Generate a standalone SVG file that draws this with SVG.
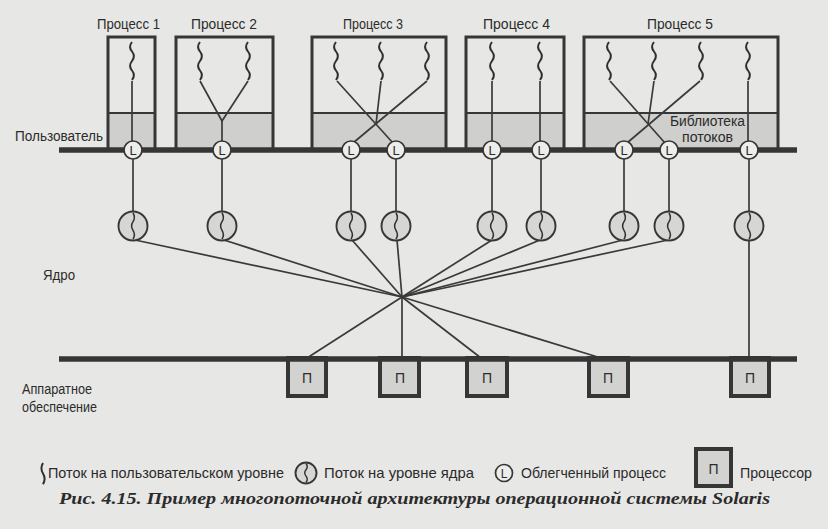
<svg xmlns="http://www.w3.org/2000/svg" xmlns:xlink="http://www.w3.org/1999/xlink" width="828" height="529" viewBox="0 0 828 529">
<style>
.t{font-family:"Liberation Sans Narrow","Liberation Sans",Arial,sans-serif;font-size:15.5px;fill:#2b2b2b}
.lg{font-size:15px}
.cap{font-family:"Liberation Serif","Times New Roman",serif;font-size:16.5px;font-style:italic;font-weight:bold;fill:#2b2b2b}
.box{fill:none;stroke:#363636;stroke-width:3}
.shade{fill:#cfcfcd}
.div{stroke:#363636;stroke-width:1.8}
.bar{stroke:#363636;stroke-width:5.5}
.ln{stroke:#3a3a3a;stroke-width:1.7;fill:none}
.wave{fill:none;stroke:#303030;stroke-width:2}
.lwp{fill:#ededeb;stroke:#363636;stroke-width:1.7}
.lt{font-family:"Liberation Sans",Arial,sans-serif;font-size:13px;fill:#2b2b2b;text-anchor:middle}
.kt{fill:#d6d6d4;stroke:#363636;stroke-width:1.9}
.cpu{fill:#d2d2d0;stroke:#363636;stroke-width:4}
.pt{font-family:"Liberation Sans",Arial,sans-serif;font-size:14px;fill:#2b2b2b;text-anchor:middle}
</style>
<defs>
<path id="uw" class="wave" d="M0,0 q-3.8,4.75 0,9.5 t0,9.5 t0,9.5 t0,9.5"/>
<path id="kw" class="wave" d="M0,-13 q2.8,4.33 0,8.67 t0,8.67 t0,8.67" style="stroke-width:1.5"/>
</defs>
<rect x="0" y="0" width="828" height="529" fill="#e7e7e5"/>

<g id="labels">
<text class="t" x="15" y="141" textLength="88" lengthAdjust="spacingAndGlyphs">Пользователь</text>
<text class="t" x="43" y="280" textLength="32" lengthAdjust="spacingAndGlyphs">Ядро</text>
<text class="t" x="22" y="394" textLength="70" lengthAdjust="spacingAndGlyphs">Аппаратное</text>
<text class="t" x="22" y="412" textLength="75" lengthAdjust="spacingAndGlyphs">обеспечение</text>
</g>

<g id="process1">
<rect class="shade" x="108" y="113" width="47" height="37"/>
<rect class="box" x="108" y="37" width="47" height="113"/>
<line class="div" x1="108" y1="113" x2="155" y2="113"/>
<text class="t" x="97" y="29" textLength="63" lengthAdjust="spacingAndGlyphs">Процесс 1</text>
<use xlink:href="#uw" x="132" y="42"/>
</g>
<g id="process2">
<rect class="shade" x="176" y="113" width="97" height="37"/>
<rect class="box" x="176" y="37" width="97" height="113"/>
<line class="div" x1="176" y1="113" x2="273" y2="113"/>
<text class="t" x="191" y="29" textLength="66" lengthAdjust="spacingAndGlyphs">Процесс 2</text>
<use xlink:href="#uw" x="200" y="42"/>
<use xlink:href="#uw" x="248" y="42"/>
</g>
<g id="process3">
<rect class="shade" x="312" y="113" width="134" height="37"/>
<rect class="box" x="312" y="37" width="134" height="113"/>
<line class="div" x1="312" y1="113" x2="446" y2="113"/>
<text class="t" x="343" y="29" textLength="60" lengthAdjust="spacingAndGlyphs">Процесс 3</text>
<use xlink:href="#uw" x="336" y="42"/>
<use xlink:href="#uw" x="381" y="42"/>
<use xlink:href="#uw" x="427" y="42"/>
</g>
<g id="process4">
<rect class="shade" x="466" y="113" width="98" height="37"/>
<rect class="box" x="466" y="37" width="98" height="113"/>
<line class="div" x1="466" y1="113" x2="564" y2="113"/>
<text class="t" x="483" y="29" textLength="67" lengthAdjust="spacingAndGlyphs">Процесс 4</text>
<use xlink:href="#uw" x="492" y="42"/>
<use xlink:href="#uw" x="540" y="42"/>
</g>
<g id="process5">
<rect class="shade" x="584" y="113" width="194" height="37"/>
<rect class="box" x="584" y="37" width="194" height="113"/>
<line class="div" x1="584" y1="113" x2="778" y2="113"/>
<text class="t" x="647" y="29" textLength="66" lengthAdjust="spacingAndGlyphs">Процесс 5</text>
<use xlink:href="#uw" x="609" y="42"/>
<use xlink:href="#uw" x="654" y="42"/>
<use xlink:href="#uw" x="701" y="42"/>
<use xlink:href="#uw" x="748" y="42"/>
<text class="t" x="670" y="126" style="font-size:14px" textLength="75" lengthAdjust="spacingAndGlyphs">Библиотека</text>
<text class="t" x="682" y="142" style="font-size:14px" textLength="51" lengthAdjust="spacingAndGlyphs">потоков</text>
</g>

<g id="bars">
<line class="bar" x1="59" y1="150" x2="797" y2="150"/>
</g>

<g id="connectors">
<line class="ln" x1="132" y1="81" x2="132" y2="141"/>
<polyline class="ln" points="200,81 222,121 248,81"/>
<line class="ln" x1="222" y1="121" x2="222" y2="141"/>
<line class="ln" x1="337" y1="81" x2="393" y2="143"/>
<line class="ln" x1="427" y1="81" x2="353" y2="143"/>
<line class="ln" x1="381" y1="81" x2="376" y2="124"/>
<line class="ln" x1="492" y1="81" x2="492" y2="141"/>
<line class="ln" x1="540" y1="81" x2="540" y2="141"/>
<line class="ln" x1="610" y1="81" x2="665" y2="143"/>
<line class="ln" x1="700" y1="81" x2="627" y2="143"/>
<line class="ln" x1="654" y1="81" x2="648" y2="124"/>
<line class="ln" x1="748" y1="81" x2="748" y2="141"/>
<line class="ln" x1="133" y1="159" x2="133" y2="212"/>
<line class="ln" x1="222" y1="159" x2="222" y2="212"/>
<line class="ln" x1="351" y1="159" x2="351" y2="212"/>
<line class="ln" x1="396" y1="159" x2="396" y2="212"/>
<line class="ln" x1="492" y1="159" x2="492" y2="212"/>
<line class="ln" x1="541" y1="159" x2="541" y2="212"/>
<line class="ln" x1="624" y1="159" x2="624" y2="212"/>
<line class="ln" x1="669" y1="159" x2="669" y2="212"/>
<line class="ln" x1="749" y1="159" x2="749" y2="212"/>
<line class="ln" x1="135" y1="240" x2="402" y2="297"/>
<line class="ln" x1="224" y1="240" x2="402" y2="297"/>
<line class="ln" x1="352" y1="240" x2="402" y2="297"/>
<line class="ln" x1="397" y1="240" x2="402" y2="297"/>
<line class="ln" x1="492" y1="240" x2="402" y2="297"/>
<line class="ln" x1="540" y1="240" x2="402" y2="297"/>
<line class="ln" x1="623" y1="240" x2="402" y2="297"/>
<line class="ln" x1="668" y1="240" x2="402" y2="297"/>
<line class="ln" x1="402" y1="297" x2="307" y2="358"/>
<line class="ln" x1="402" y1="297" x2="402" y2="358"/>
<line class="ln" x1="402" y1="297" x2="481" y2="358"/>
<line class="ln" x1="402" y1="297" x2="601" y2="358"/>
<line class="ln" x1="749" y1="240" x2="749" y2="358"/>
</g>

<g id="lwp1"><circle class="lwp" cx="133" cy="150" r="9"/><text class="lt" x="133" y="154.5">L</text></g>
<g id="lwp2"><circle class="lwp" cx="222" cy="150" r="9"/><text class="lt" x="222" y="154.5">L</text></g>
<g id="lwp3"><circle class="lwp" cx="351" cy="150" r="9"/><text class="lt" x="351" y="154.5">L</text></g>
<g id="lwp4"><circle class="lwp" cx="396" cy="150" r="9"/><text class="lt" x="396" y="154.5">L</text></g>
<g id="lwp5"><circle class="lwp" cx="492" cy="150" r="9"/><text class="lt" x="492" y="154.5">L</text></g>
<g id="lwp6"><circle class="lwp" cx="541" cy="150" r="9"/><text class="lt" x="541" y="154.5">L</text></g>
<g id="lwp7"><circle class="lwp" cx="624" cy="150" r="9"/><text class="lt" x="624" y="154.5">L</text></g>
<g id="lwp8"><circle class="lwp" cx="669" cy="150" r="9"/><text class="lt" x="669" y="154.5">L</text></g>
<g id="lwp9"><circle class="lwp" cx="749" cy="150" r="9"/><text class="lt" x="749" y="154.5">L</text></g>

<g id="kthread1"><circle class="kt" cx="133" cy="226" r="14.5"/><use xlink:href="#kw" x="133" y="226"/></g>
<g id="kthread2"><circle class="kt" cx="222" cy="226" r="14.5"/><use xlink:href="#kw" x="222" y="226"/></g>
<g id="kthread3"><circle class="kt" cx="351" cy="226" r="14.5"/><use xlink:href="#kw" x="351" y="226"/></g>
<g id="kthread4"><circle class="kt" cx="396" cy="226" r="14.5"/><use xlink:href="#kw" x="396" y="226"/></g>
<g id="kthread5"><circle class="kt" cx="492" cy="226" r="14.5"/><use xlink:href="#kw" x="492" y="226"/></g>
<g id="kthread6"><circle class="kt" cx="541" cy="226" r="14.5"/><use xlink:href="#kw" x="541" y="226"/></g>
<g id="kthread7"><circle class="kt" cx="624" cy="226" r="14.5"/><use xlink:href="#kw" x="624" y="226"/></g>
<g id="kthread8"><circle class="kt" cx="669" cy="226" r="14.5"/><use xlink:href="#kw" x="669" y="226"/></g>
<g id="kthread9"><circle class="kt" cx="749" cy="226" r="14.5"/><use xlink:href="#kw" x="749" y="226"/></g>

<g id="cpu1"><rect class="cpu" x="288" y="358" width="38" height="38"/><text class="pt" x="307" y="383">П</text></g>
<g id="cpu2"><rect class="cpu" x="380" y="358" width="39" height="38"/><text class="pt" x="400" y="383">П</text></g>
<g id="cpu3"><rect class="cpu" x="467" y="358" width="40" height="38"/><text class="pt" x="487" y="383">П</text></g>
<g id="cpu4"><rect class="cpu" x="589" y="358" width="39" height="38"/><text class="pt" x="608" y="383">П</text></g>
<g id="cpu5"><rect class="cpu" x="731" y="358" width="38" height="38"/><text class="pt" x="750" y="383">П</text></g>
<line class="bar" x1="59" y1="359" x2="797" y2="359"/>

<g id="legend">
<path class="wave" d="M43,463 q-3.2,5.3 0,10.6 t0,10.6"/>
<text class="t lg" x="48" y="478" textLength="236" lengthAdjust="spacingAndGlyphs">Поток на пользовательском уровне</text>
<circle class="kt" cx="306" cy="473" r="10.5"/>
<path class="wave" d="M306,463.5 q2.5,3.2 0,6.3 t0,6.3 t0,6.3" style="stroke-width:1.4"/>
<text class="t lg" x="324" y="478" textLength="150" lengthAdjust="spacingAndGlyphs">Поток на уровне ядра</text>
<circle class="lwp" cx="504" cy="473" r="8.5"/>
<text class="lt" x="504" y="477.5" style="font-size:12px">L</text>
<text class="t lg" x="521" y="478" textLength="145" lengthAdjust="spacingAndGlyphs">Облегченный процесс</text>
<rect class="cpu" x="696" y="449" width="35" height="37"/>
<text class="pt" x="713.5" y="474">П</text>
<text class="t lg" x="740" y="478" textLength="72" lengthAdjust="spacingAndGlyphs">Процессор</text>
</g>

<text class="cap" x="59" y="504" textLength="711" lengthAdjust="spacingAndGlyphs">Рис. 4.15. Пример многопоточной архитектуры операционной системы Solaris</text>
</svg>
